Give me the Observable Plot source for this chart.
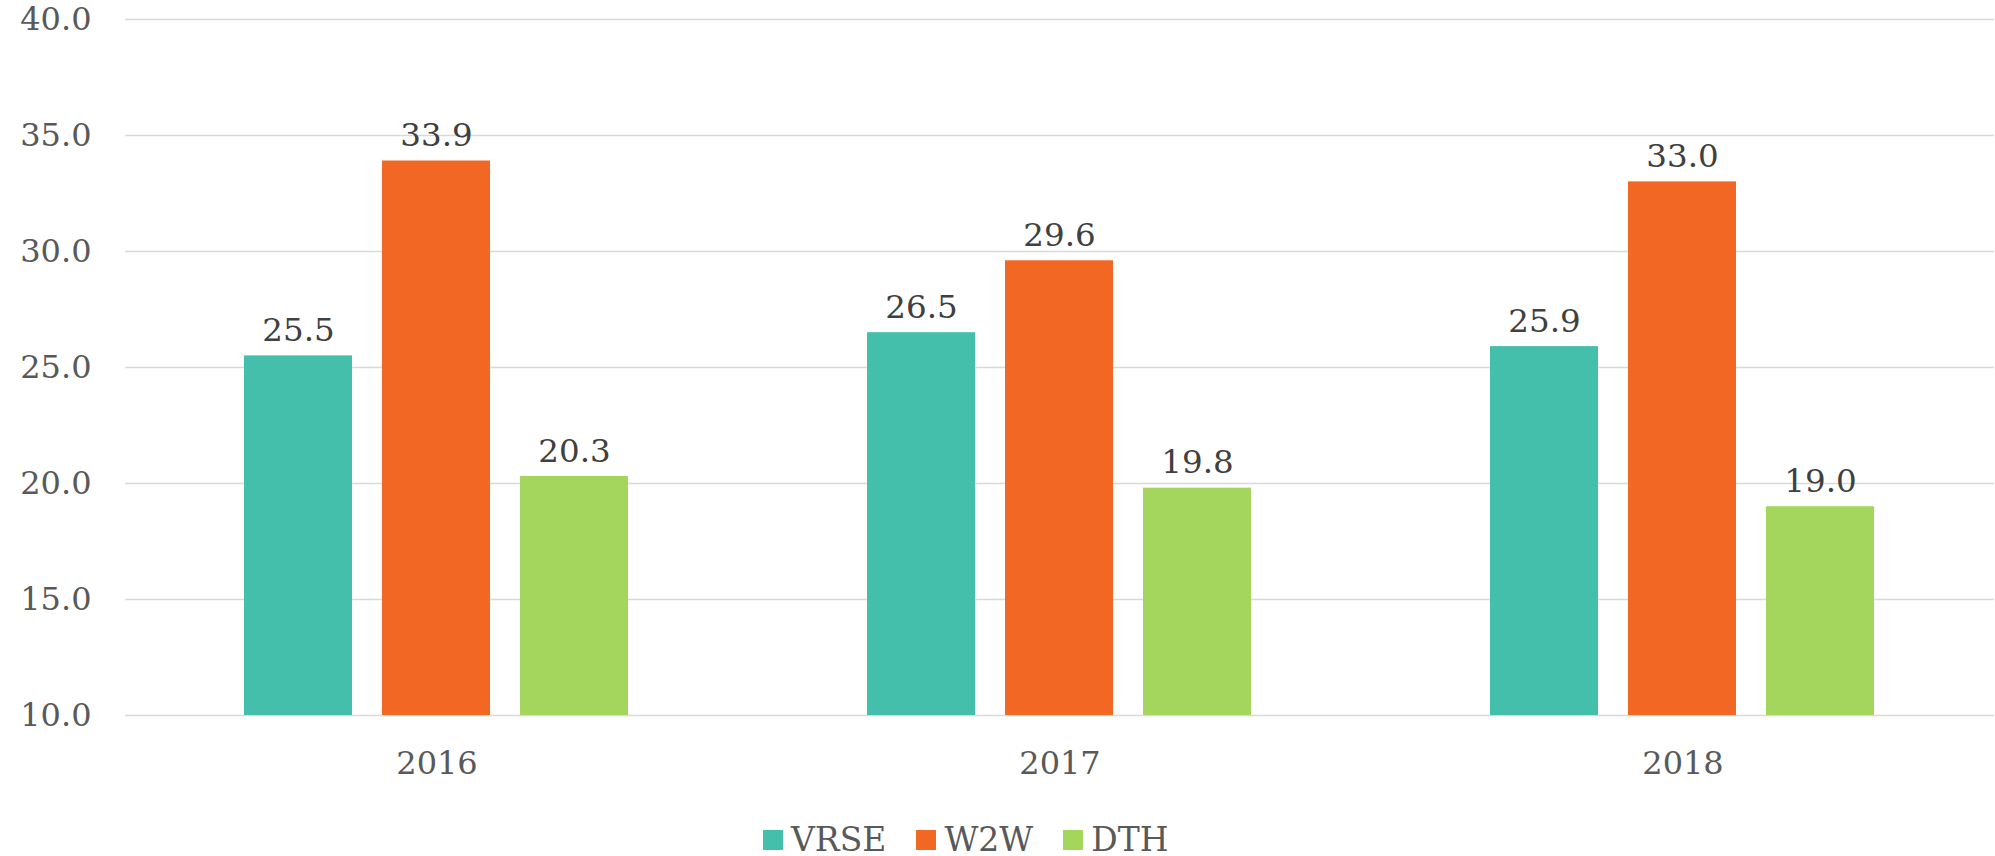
<!DOCTYPE html>
<html>
<head>
<meta charset="utf-8">
<script src="https://cdn.jsdelivr.net/npm/d3@7"></script>
<script src="https://cdn.jsdelivr.net/npm/@observablehq/plot@0.6"></script>
<style>
  html, body { margin: 0; padding: 0; background: #fff; }
  #chart svg { display: block; }
  #legend { display: flex; align-items: center; margin-left: 763px; margin-top: 20px; height: 40px; line-height: 40px; font-family: "DejaVu Serif", serif; font-size: 33px; color: #595959; }
  #legend .item { display: flex; align-items: center; margin-right: 30px; }
  #legend .sw { width: 20px; height: 20px; margin-right: 8px; }
</style>
</head>
<body>
<div id="chart"></div>
<div id="legend"></div>
<script>
const years = ["2016", "2017", "2018"];
const series = ["VRSE", "W2W", "DTH"];
const colors = ["#43BFAC", "#F26724", "#A4D65E"];
const VRSE = [25.5, 26.5, 25.9];
const W2W = [33.9, 29.6, 33.0];
const DTH = [20.3, 19.8, 19.0];
const yTicks = [10, 15, 20, 25, 30, 35, 40];

const valuesBySeries = {VRSE, W2W, DTH};
const rows = [];
years.forEach((yr, i) => {
  series.forEach(s => rows.push({year: yr, series: s, value: valuesBySeries[s][i]}));
});
const yMin = yTicks[0];
const yMax = yTicks[yTicks.length - 1];

const font = "DejaVu Serif";

const chart = Plot.plot({
  width: 1995,
  height: 800,
  marginTop: 19,
  marginBottom: 85,
  marginLeft: 124,
  marginRight: 0,
  style: {fontFamily: font, fontSize: "32px", color: "#595959", background: "#fff"},
  fx: {domain: years, padding: 0, axis: "bottom", tickSize: 0, tickPadding: 36, label: null},
  x: {domain: series, paddingInner: 0.2166, paddingOuter: 0.86, axis: null},
  y: {domain: [yMin, yMax], ticks: yTicks, tickFormat: d3.format(".1f"), tickSize: 0, tickPadding: 34, label: null},
  color: {domain: series, range: colors},
  marks: [
    Plot.gridY(yTicks, {stroke: "#d9d9d9", strokeOpacity: 1, strokeWidth: 1.5}),
    Plot.barY(rows, {fx: "year", x: "series", y1: () => yMin, y2: "value", fill: "series"}),
    Plot.text(rows, {fx: "year", x: "series", y: "value", text: d => d.value.toFixed(1), dy: -15, lineAnchor: "bottom", fill: "#404040", fontSize: 32.5})
  ]
});
document.getElementById("chart").appendChild(chart);

const legend = document.getElementById("legend");
series.forEach((s, i) => {
  const item = document.createElement("div");
  item.className = "item";
  const sw = document.createElement("span");
  sw.className = "sw";
  sw.style.background = colors[i];
  const t = document.createElement("span");
  t.textContent = s;
  item.appendChild(sw);
  item.appendChild(t);
  legend.appendChild(item);
});
</script>
</body>
</html>
